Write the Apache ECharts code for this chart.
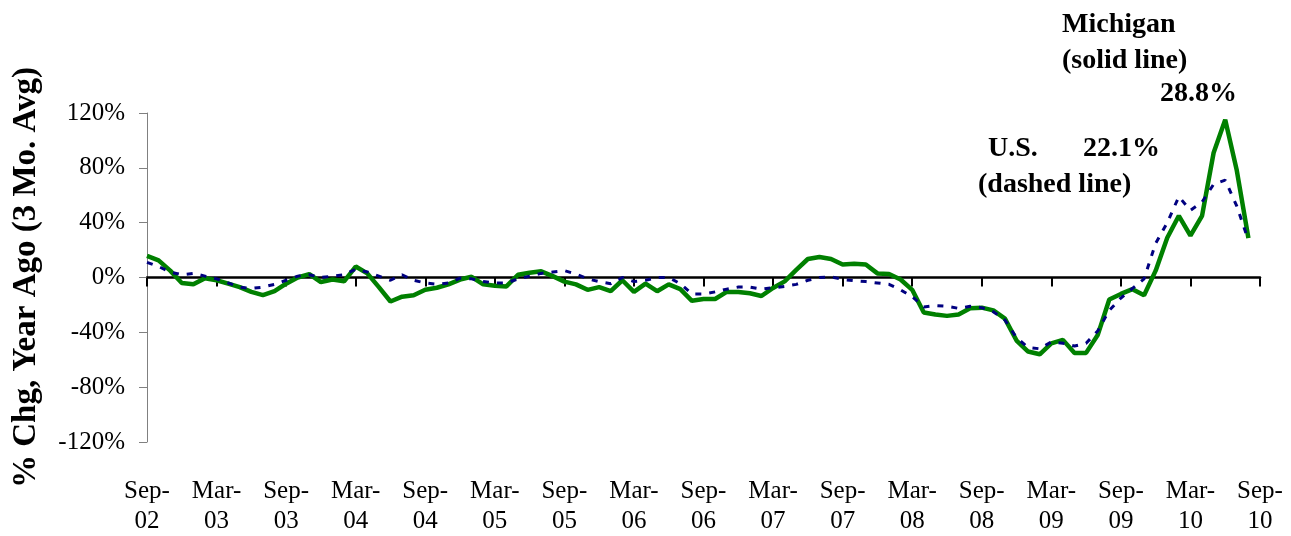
<!DOCTYPE html>
<html>
<head>
<meta charset="utf-8">
<script src="https://cdn.jsdelivr.net/npm/echarts@6/dist/echarts.min.js"></script>
<style>
html,body{margin:0;padding:0;background:#fff;}
#chart{width:1291px;height:536px;}
</style>
</head>
<body>
<div id="chart"></div>
<script>
// Months Sep-02 .. Sep-10
const monthNames = ['Jan','Feb','Mar','Apr','May','Jun','Jul','Aug','Sep','Oct','Nov','Dec'];
const categories = [];
for (let k = 0; k <= 96; k++) {
  const m = (8 + k) % 12;
  const y = 2 + Math.floor((8 + k) / 12);
  categories.push(monthNames[m] + '-' + String(y).padStart(2, '0'));
}

const michigan = [
  15.7, 12.5, 5, -4, -5, -0.5, -2, -4.5, -7, -10.5, -12.8, -10,
  -4.5, 0, 2.5, -3.3, -1.5, -2.8, 8, 3, -7, -17.5, -14, -13,
  -9, -7.5, -5, -1.5, 0.5, -5, -6, -6.5, 2, 3.5, 4.5, 1,
  -3, -5, -9, -7, -10, -2, -10.5, -4.5, -10, -5, -8.5, -17,
  -15.7, -15.7, -10.5, -10.5, -11.5, -13.5, -7.6, -2.8, 5.5, 13.5, 15, 13.5,
  9.5, 10, 9.5, 3, 2.5, -1.5, -9, -25.5, -27, -28, -27, -22.5,
  -22, -24, -30, -46, -54, -56, -48, -45.5, -55, -55, -42, -16,
  -12, -8.5, -13, 5, 29, 45, 30.5, 45, 91, 115, 78, 28.8,
  null
];

const us = [
  11, 8, 4, 2, 3, 1, -1, -4, -7, -8, -7, -5,
  -2, 1, 2, 0, 1, 2, 6, 4, 1, -2, 2, -2,
  -4, -5, -4, -0.5, -1, -3, -4, -4, -1, 1, 3, 4,
  5, 2.5, -1, -3, -4.5, 0, -3, -2, 0, 0, -4.5, -12,
  -12, -10.5, -8.5, -7, -7, -8.5, -7.5, -6.5, -5, -2, 0, 0.5,
  -1.5, -2.3, -3, -4, -5, -9, -14, -21.5, -20.5, -21, -22.5, -21,
  -22, -25, -31, -44, -51, -52, -47, -48, -50, -48, -39, -24,
  -15, -8, -1, 25, 40, 59, 49, 55, 68, 71, 52, 27,
  null
];

const yTicks = { min: -120, max: 120, interval: 40 };

const annotations = [
  { text: 'Michigan', x: 1062, y: 24 },
  { text: '(solid line)', x: 1062, y: 60 },
  { text: '28.8%', x: 1160, y: 93 },
  { text: 'U.S.', x: 988, y: 148 },
  { text: '22.1%', x: 1083, y: 148 },
  { text: '(dashed line)', x: 978, y: 184 }
];

const FONT = '"Liberation Serif", "Times New Roman", serif';

const chart = echarts.init(document.getElementById('chart'), null, { renderer: 'canvas' });
chart.setOption({
  animation: false,
  backgroundColor: '#ffffff',
  grid: { left: 147, right: 31, top: 113, bottom: 86, containLabel: false },
  xAxis: [
    {
      type: 'category',
      data: categories,
      boundaryGap: false,
      position: 'bottom',
      axisLine: { show: false, onZero: false },
      axisTick: { show: false },
      splitLine: { show: false },
      axisLabel: {
        interval: 5,
        margin: 34,
        fontFamily: FONT,
        fontSize: 25,
        lineHeight: 30,
        color: '#000',
        formatter: v => v.replace('-', '-\n')
      }
    },
    {
      type: 'category',
      data: categories,
      boundaryGap: false,
      position: 'bottom',
      axisLine: { show: true, onZero: true, lineStyle: { color: '#000', width: 2.5 } },
      axisTick: { show: true, interval: 5, length: 9, lineStyle: { color: '#000', width: 2 } },
      axisLabel: { show: false },
      splitLine: { show: false }
    }
  ],
  yAxis: {
    type: 'value',
    min: yTicks.min,
    max: yTicks.max,
    interval: yTicks.interval,
    axisLine: { show: true, onZero: false, lineStyle: { color: '#808080', width: 1 } },
    axisTick: { show: true, length: 8, lineStyle: { color: '#808080', width: 1 } },
    splitLine: { show: false },
    axisLabel: {
      margin: 22,
      fontFamily: FONT,
      fontSize: 25,
      color: '#000',
      formatter: '{value}%'
    },
    name: '% Chg, Year Ago (3 Mo. Avg)',
    nameLocation: 'middle',
    nameGap: 104,
    nameRotate: 90,
    nameTextStyle: { fontFamily: FONT, fontSize: 33, fontWeight: 'bold', color: '#000' }
  },
  series: [
    {
      name: 'Michigan',
      type: 'line',
      data: michigan,
      xAxisIndex: 0,
      symbol: 'none',
      lineStyle: { color: '#008000', width: 4.5 },
      z: 2
    },
    {
      name: 'U.S.',
      type: 'line',
      data: us,
      xAxisIndex: 0,
      symbol: 'none',
      lineStyle: { color: '#000080', width: 3, type: [6, 8] },
      z: 3
    }
  ],
  graphic: annotations.map(a => ({
    type: 'text',
    left: a.x,
    top: a.y - 13,
    style: {
      text: a.text,
      fontFamily: FONT,
      fontSize: 28,
      fontWeight: 'bold',
      fill: '#000'
    }
  }))
});
</script>
</body>
</html>
